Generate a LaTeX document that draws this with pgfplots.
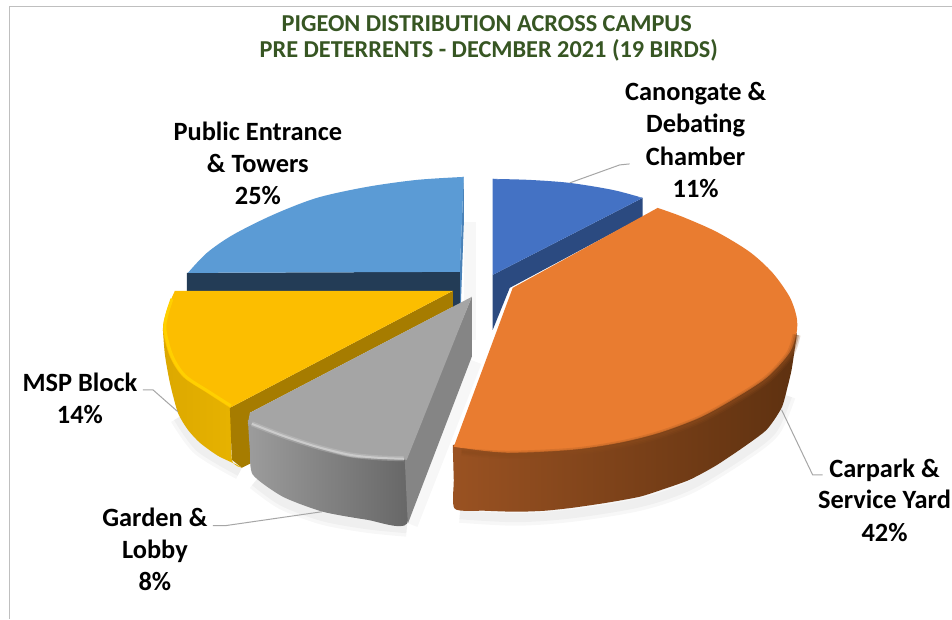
\documentclass[border=0pt]{standalone}
\usepackage{fontspec}
\usepackage{pgfplots}
\pgfplotsset{compat=1.18}
\setmainfont{Carlito}

\definecolor{titlegreen}{HTML}{375623}
\definecolor{bluetop}{HTML}{5B9BD5}
\definecolor{bluedark}{HTML}{233C56}
\definecolor{bluesliver}{HTML}{4A82B8}
\definecolor{navytop}{HTML}{4472C4}
\definecolor{navydark}{HTML}{2B4A80}
\definecolor{orangetop}{HTML}{E97C30}
\definecolor{orangerim}{HTML}{8A4A1C}
\definecolor{orangeleft}{HTML}{9A5222}
\definecolor{orangeright}{HTML}{5E3110}
\definecolor{yellowtop}{HTML}{FCBE00}
\definecolor{yellowrim}{HTML}{FFD000}
\definecolor{yellowcut}{HTML}{A67C00}
\definecolor{yellowleft}{HTML}{DCA800}
\definecolor{yellowright}{HTML}{E8B400}
\definecolor{graytop}{HTML}{A5A5A5}
\definecolor{grayrim}{HTML}{D2D2D2}
\definecolor{grayside}{HTML}{858585}
\definecolor{grayleft}{HTML}{9C9C9C}
\definecolor{grayright}{HTML}{666666}
\definecolor{leader}{HTML}{A6A6A6}

\tikzset{
  lbl/.style={font=\fontsize{26.5}{26.5}\selectfont\bfseries, text=black, inner sep=0pt, anchor=base},
  ttl/.style={font=\fontsize{24.4}{24.4}\selectfont\bfseries, text=titlegreen, inner sep=0pt, anchor=base},
}

\begin{document}
\begin{tikzpicture}
\begin{axis}[
  scale only axis, width=952bp, height=619bp,
  hide axis, xmin=0, xmax=952, ymin=0, ymax=619, y dir=reverse,
  clip=false, no marks,
  face/.style={fill=#1, draw=none},
]
% page and frame
\addplot[fill=white, draw=none] coordinates {(0,0)(952,0)(952,619)(0,619)};
\addplot[draw=black!25, line width=1pt] coordinates {(9.5,619)(9.5,6.5)(952,6.5)};

% soft shadows
\addplot[smooth, draw=black, opacity=0.03, line width=16bp] coordinates {(178,418)(200,448)(240,472)};
\addplot[smooth, draw=black, opacity=0.03, line width=9bp] coordinates {(178,418)(200,448)(240,472)};
\addplot[smooth, draw=black, opacity=0.03, line width=16bp] coordinates {(255,482)(283,502)(323,517)(367,525)(407,529)};
\addplot[smooth, draw=black, opacity=0.03, line width=9bp] coordinates {(255,482)(283,502)(323,517)(367,525)(407,529)};
\addplot[smooth, draw=black, opacity=0.03, line width=16bp] coordinates {(460,515)(517,518)(573,514)(640,503)(690,486)(743,454)(773,430)(788,396)};
\addplot[smooth, draw=black, opacity=0.03, line width=9bp] coordinates {(460,515)(517,518)(573,514)(640,503)(690,486)(743,454)(773,430)(788,396)};
\addplot[draw=black, opacity=0.03, line width=12bp] coordinates {(470,222)(470,340)};
\addplot[draw=black, opacity=0.03, line width=12bp] coordinates {(412,525)(476,362)};

% public entrance & towers
\addplot[fill=bluesliver, draw=none] coordinates {(464,177)(464,225)(461,307)(455,307)(460,272)};
\addplot[fill=bluedark, draw=none] coordinates {(187,273)(460,272)(460,307)(453,307)(453,291)(187,291)};
\addplot[face=bluetop] coordinates {(464,177)(330,210)(188,273)(460,272)};
\addplot[smooth, face=bluetop] coordinates {(464,177)(417,180)(367,187)(317,198)(273,215)(233,235)(207,253)(188,273)};

% canongate & debating chamber
\addplot[fill=navydark, draw=none] coordinates {(643,198)(643,217)(510,288)(493,330)(493,275)};
\addplot[face=navytop] coordinates {(493,179)(570,186)(643,198)(493,275)};
\addplot[smooth, face=navytop] coordinates {(493,179)(530,180)(570,183)(613,190)(643,198)};

% msp block
\addplot[smooth, tension=0.4, left color=yellowleft, right color=yellowright, draw=none] coordinates {(163,330)(165,355)(170,383)(178,413)(188,430)(200,443)(218,456)(237,465)(242,468)(232,460)(230,406)(207,391)(183,375)(170,355)};
\addplot[fill=yellowcut, draw=none] coordinates {(453,291)(453,307)(250,413)(252,463)(242,468)(232,460)(230,408)};
\addplot[face=yellowtop] coordinates {(175,291)(453,291)(230,408)(185,350)};
\addplot[smooth, face=yellowtop] coordinates {(175,291)(167,310)(163,330)(170,357)(183,377)(207,393)(230,408)};
\addplot[smooth, draw=yellowrim, line width=3bp] coordinates {(172,299)(167,315)(165,330)(172,356)(185,376)(209,392)(231,406)};

% garden & lobby
\addplot[smooth, tension=0.4, left color=grayleft, right color=grayright, draw=none] coordinates {(248,420)(250,450)(253,475)(283,497)(323,512)(367,520)(407,524)(405,458)(350,455)(300,441)(265,428)};
\addplot[fill=grayside, draw=none] coordinates {(472,297)(472,357)(408,524)(405,460)};
\addplot[face=graytop] coordinates {(472,297)(250,413)(248,424)(327,447)(407,460)};
\addplot[smooth, face=graytop] coordinates {(248,424)(283,437)(317,448)(350,457)(378,459)(407,460)};
\addplot[smooth, draw=grayrim, line width=5bp, opacity=0.3] coordinates {(252,424)(283,436)(317,447)(350,455)(378,458)(404,459)};
\addplot[smooth, draw=grayrim, line width=2bp, opacity=0.8] coordinates {(252,424)(283,436)(317,447)(350,455)(378,458)(404,459)};

% carpark & service yard
\addplot[smooth, tension=0.4, left color=orangeleft, middle color=orangeright, right color=orangeright, draw=none] coordinates {(453,445)(454,480)(455,509)(485,511)(517,512)(545,511)(573,508)(607,503)(640,497)(665,489)(690,480)(716,466)(743,448)(767,430)(782,408)(788,387)(792,370)(795,350)(797,333)(790,340)(767,368)(700,408)(620,433)(573,440)(507,444)};
\addplot[face=orangetop] coordinates {(658,208)(513,288)(454,447)(720,330)};
\addplot[smooth, face=orangetop] coordinates {(658,208)(683,217)(717,232)(750,252)(773,273)(790,297)(797,317)(797,333)(790,353)(767,378)(733,400)(700,418)(660,433)(620,443)(573,450)(507,453)(454,447)};
\addplot[smooth, draw=orangerim, line width=8bp, opacity=0.2] coordinates {(462,452)(507,455)(573,452)(620,445)(660,435)(700,420)(733,402)(767,380)(790,355)(797,335)};
\addplot[smooth, draw=orangerim, line width=5bp, opacity=0.3] coordinates {(462,452)(507,455)(573,452)(620,445)(660,435)(700,420)(733,402)(767,380)(790,355)(797,335)};
\addplot[smooth, draw=orangerim, line width=2bp, opacity=0.4] coordinates {(462,452)(507,455)(573,452)(620,445)(660,435)(700,420)(733,402)(767,380)(790,355)(797,335)};

% leader lines
\addplot[draw=leader, line width=1bp] coordinates {(570,183)(620,165)(630,164)};
\addplot[draw=leader, line width=1bp] coordinates {(782,410)(813,475)(823,475)};
\addplot[draw=leader, line width=1bp] coordinates {(322,512)(225,526)(213,526)};
\addplot[draw=leader, line width=1bp] coordinates {(178,412)(153,390)(143,390)};

% text
\node[ttl] at (axis cs:487,32) {PIGEON DISTRIBUTION ACROSS CAMPUS};
\node[ttl] at (axis cs:489,58) {PRE DETERRENTS - DECMBER 2021 (19 BIRDS)};
\node[lbl] at (axis cs:258,141) {Public Entrance};
\node[lbl] at (axis cs:258,173) {\& Towers};
\node[lbl] at (axis cs:258,205) {25\%};
\node[lbl] at (axis cs:696,101) {Canongate \&};
\node[lbl] at (axis cs:696,133) {Debating};
\node[lbl] at (axis cs:696,166) {Chamber};
\node[lbl] at (axis cs:696,198) {11\%};
\node[lbl] at (axis cs:885,478) {Carpark \&};
\node[lbl] at (axis cs:885,509) {Service Yard};
\node[lbl] at (axis cs:885,542) {42\%};
\node[lbl] at (axis cs:80,392) {MSP Block};
\node[lbl] at (axis cs:80,424) {14\%};
\node[lbl] at (axis cs:155,527) {Garden \&};
\node[lbl] at (axis cs:155,559) {Lobby};
\node[lbl] at (axis cs:155,591) {8\%};
\end{axis}
\end{tikzpicture}
\end{document}
